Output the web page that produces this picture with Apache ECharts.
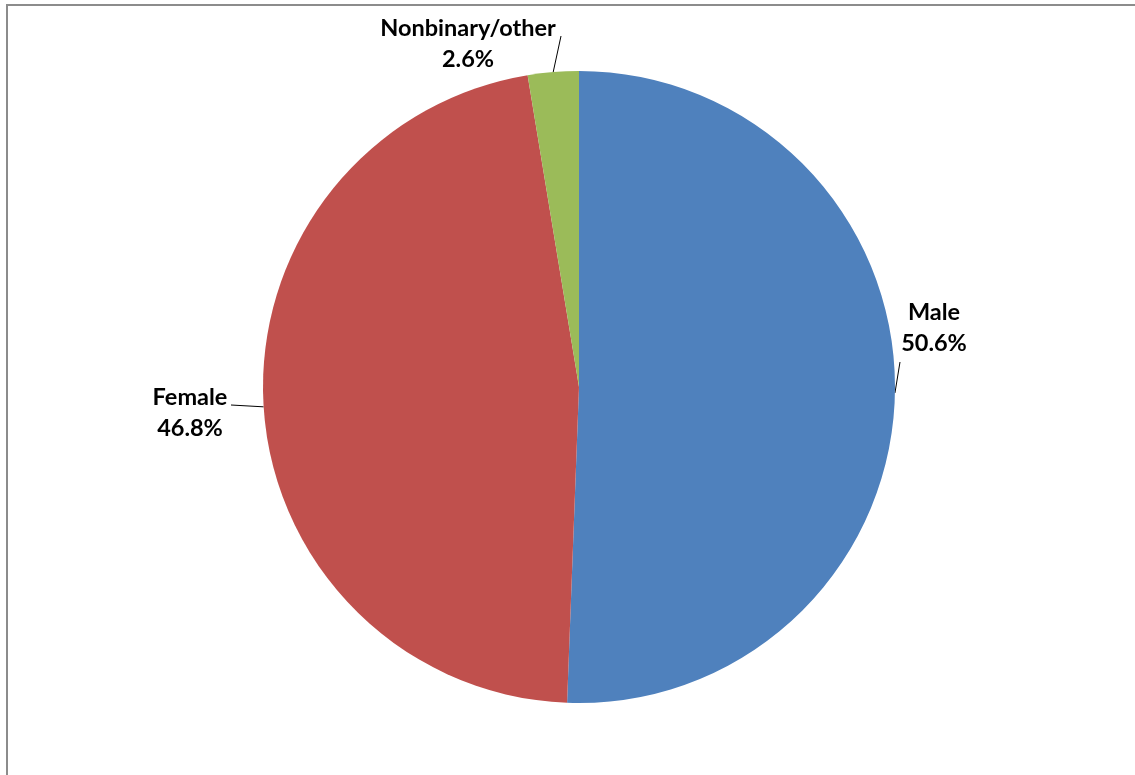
<!DOCTYPE html>
<html>
<head>
<meta charset="utf-8">
<script src="https://cdn.jsdelivr.net/npm/echarts@6/dist/echarts.min.js"></script>
<style>
  html, body { margin: 0; padding: 0; background: #fff; }
  #frame { position: absolute; left: 6px; top: 4px; width: 1140px; height: 780px; border-left: 2px solid #8c8c8c; border-top: 2px solid #8c8c8c; box-sizing: border-box; }
  #chart { position: absolute; left: 0; top: 0; width: 1135px; height: 775px; }
</style>
</head>
<body>
<div id="frame"></div>
<div id="chart"></div>
<script>
// Gender breakdown, percent of respondents
const categories = ['Male', 'Female', 'Nonbinary/other'];
const shares = [50.6, 46.8, 2.6];
const colors = ['#4F81BD', '#C0504D', '#9BBB59'];

// Label anchor points (centre of each two-line label)
const labelSpots = [
  { x: 934, y: 328 },
  { x: 190, y: 413 },
  { x: 468, y: 44 }
];
// Where each leader line meets its label, relative to the label centre
const leaderEnds = [
  [-34, 34],
  [41, -8],
  [93, -8]
];

const chart = echarts.init(document.getElementById('chart'));
chart.setOption({
  animation: false,
  series: [{
    type: 'pie',
    center: [579, 387],
    radius: 316,
    startAngle: 90,
    clockwise: true,
    data: categories.map((name, i) => ({
      name,
      value: shares[i],
      itemStyle: { color: colors[i] }
    })),
    label: {
      show: true,
      position: 'outside',
      formatter: p => p.name + '\n' + p.value.toFixed(1) + '%',
      fontFamily: 'Lato',
      fontWeight: 'bold',
      fontSize: 23.5,
      lineHeight: 31,
      color: '#000',
      align: 'center'
    },
    labelLine: {
      show: true,
      length: 10,
      length2: 0,
      lineStyle: { color: '#000', width: 1 }
    },
    labelLayout: function (params) {
      const i = params.dataIndex;
      const s = labelSpots[i];
      const start = params.labelLinePoints[0];
      const end = [s.x + leaderEnds[i][0], s.y + leaderEnds[i][1]];
      return {
        x: s.x, y: s.y, align: 'center', verticalAlign: 'middle',
        labelLinePoints: [start, end, end]
      };
    },
    emphasis: { disabled: true }
  }]
});
</script>
</body>
</html>
